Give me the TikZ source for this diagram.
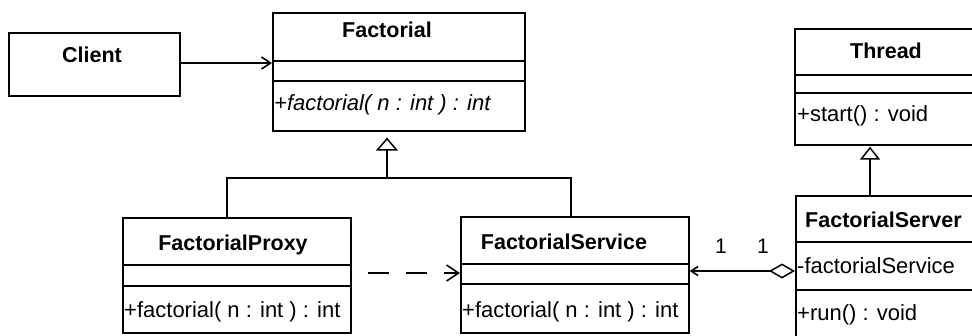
\documentclass[tikz,border=0pt]{standalone}
\usepackage{fontspec}
\setmainfont{Liberation Sans}
\usetikzlibrary{arrows.meta}
\begin{document}
\begin{tikzpicture}[x=1pt,y=-1pt,
  box/.style={draw, line width=1.6pt, inner sep=0pt, anchor=north west},
  sep/.style={line width=1.6pt},
  ttl/.style={font=\fontsize{21.5}{24}\selectfont\bfseries, anchor=base, inner sep=0pt},
  mbr/.style={font=\fontsize{22}{24}\selectfont, anchor=base west, inner sep=0pt},
  conn/.style={line width=1.6pt},
  lbl/.style={font=\fontsize{21}{24}\selectfont, anchor=base, inner sep=0pt}]
\clip (0,0) rectangle (972,335);
\fill[white] (0,0) rectangle (972,335);
% boxes
\node[box, minimum width=171pt, minimum height=63pt] (client) at (8,32) {};
\node[box, minimum width=252pt, minimum height=118pt] (fact) at (272,12) {};
\node[box, minimum width=194pt, minimum height=116pt] (thread) at (794,28) {};
\node[box, minimum width=228pt, minimum height=115pt] (proxy) at (122,217) {};
\node[box, minimum width=228pt, minimum height=116pt] (service) at (460,216) {};
\node[box, minimum width=194pt, minimum height=200pt] (server) at (795,195) {};
% compartments
\draw[sep] (272,61) -- (524,61) (272,81) -- (524,81);
\draw[sep] (794,75) -- (988,75) (794,93) -- (988,93);
\draw[sep] (122,265) -- (350,265) (122,286) -- (350,286);
\draw[sep] (460,264) -- (688,264) (460,284) -- (688,284);
\draw[sep] (795,242) -- (989,242) (795,290) -- (989,290);
% texts
\node[ttl] (tclient) at (92,62) {Client};
\node[ttl] (tfact) at (387,37) {Factorial};
\node[mbr] (mfact) at (274,110) {\itshape +factorial( n : int ) : int};
\node[ttl] (tthread) at (886,58) {Thread};
\node[mbr] (mthread) at (797,121) {+start() : void};
\node[ttl] (tproxy) at (233,250) {FactorialProxy};
\node[mbr] (mproxy) at (124,317) {+factorial( n : int ) : int};
\node[ttl] (tservice) at (564,249) {FactorialService};
\node[mbr] (mservice) at (462,317) {+factorial( n : int ) : int};
\node[ttl, anchor=base west] (tserver) at (805,227) {FactorialServer};
\node[mbr] (aserver) at (797,273) {-factorialService};
\node[mbr] (mserver) at (797,320) {+run() : void};
\node[lbl] (m1) at (721,253) {1};
\node[lbl] (m2) at (763,253) {1};
% connectors
\coordinate (ca) at (179,63);
\draw[conn, -{Straight Barb[length=9pt,width=12pt]}] (client.east |- ca) -- (fact.west |- ca);
\coordinate (j) at (387,178);
\coordinate (pj) at (227,178);
\coordinate (sj) at (571,178);
\draw[conn] (proxy.north -| pj) -- (pj) -- (sj) -- (service.north -| sj);
\draw[conn, -{Triangle[open,length=13pt,width=22pt,line width=1.5pt]}, shorten >=6pt] (j) -- (fact.south -| j);
\coordinate (tx) at (870,160);
\draw[conn, -{Triangle[open,length=13pt,width=20pt,line width=1.5pt]}, shorten >=1pt] (server.north -| tx) -- (thread.south -| tx);
\coordinate (dy) at (400,273);
\draw[conn, dash pattern=on 21pt off 17pt, shorten <=16pt, -{Straight Barb[length=12pt,width=16pt]}] (proxy.east |- dy) -- (service.west |- dy);
\coordinate (ay) at (740,271);
\draw[conn, {Diamond[open,length=26pt,width=15pt,line width=1.5pt]}-{Straight Barb[length=7pt,width=9pt]}] (server.west |- ay) -- (service.east |- ay);
\end{tikzpicture}
\end{document}
